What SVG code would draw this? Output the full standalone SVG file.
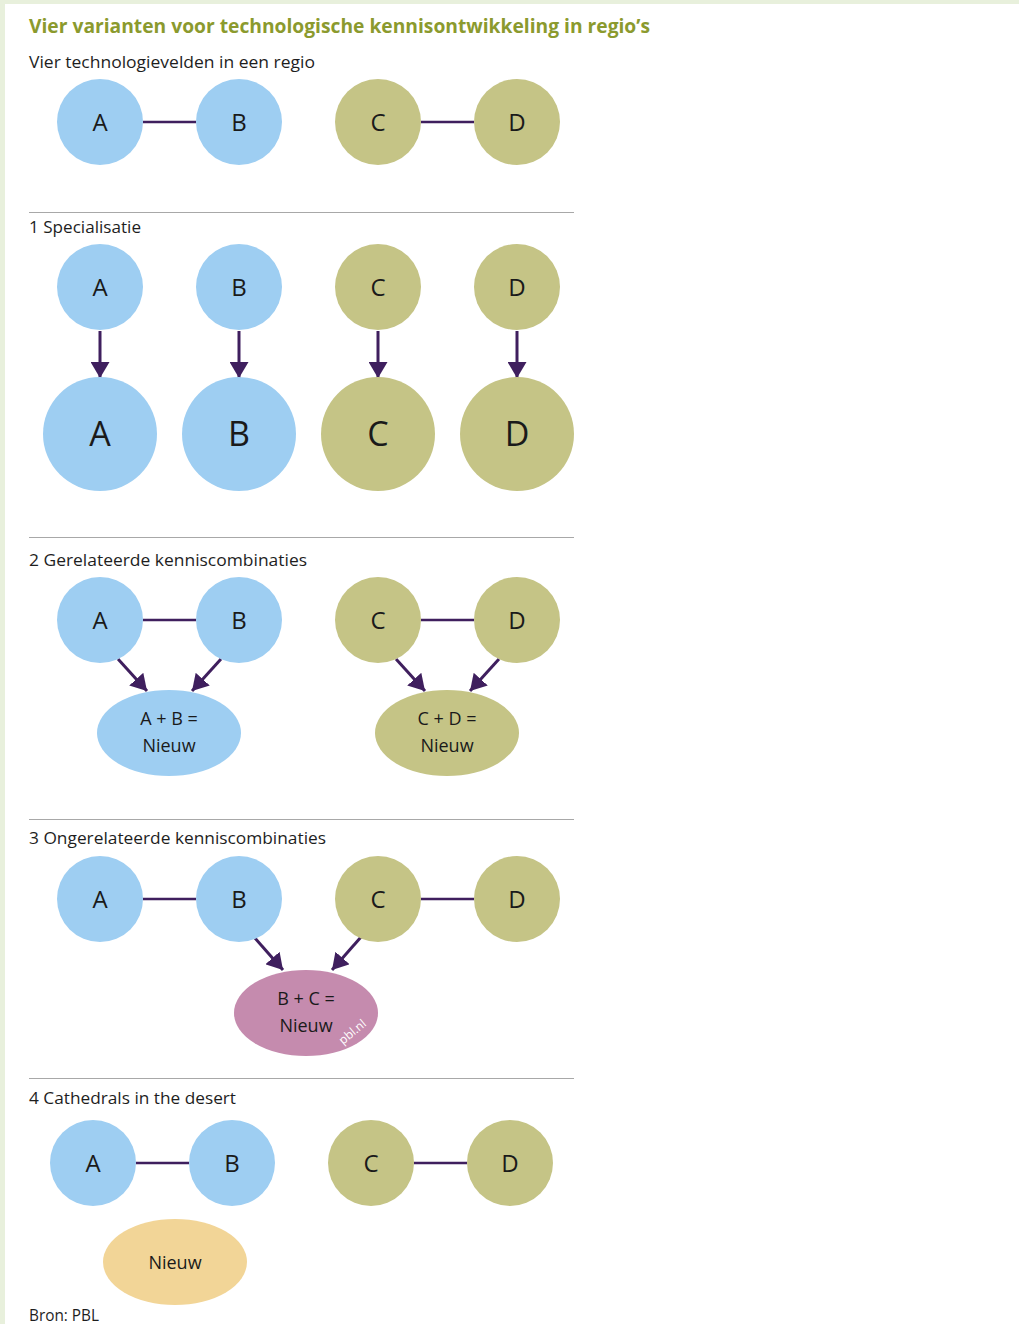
<svg xmlns="http://www.w3.org/2000/svg" width="1019" height="1324" viewBox="0 0 1019 1324">
<defs>
<style>
.bg{fill:#ffffff}
.frame{fill:#e8f0dc}
.title{font-family:"Open Sans","Noto Sans",sans-serif;font-weight:700;font-size:20px;fill:#8b9a2e}
.head{font-family:"Open Sans","Noto Sans",sans-serif;font-size:17px;fill:#1e1e1e}
.sep{stroke:#a8a8a8;stroke-width:1}
.blue{fill:#9ecef2}
.olive{fill:#c5c486}
.pink{fill:#c58bae}
.yellow{fill:#f2d597}
.lbl{font-family:"Open Sans","Noto Sans",sans-serif;font-size:24px;fill:#1a1a1a;text-anchor:middle}
.lblb{font-family:"Open Sans","Noto Sans",sans-serif;font-size:34px;fill:#1a1a1a;text-anchor:middle}
.elbl{font-family:"Open Sans","Noto Sans",sans-serif;font-size:18px;fill:#1a1a1a;text-anchor:middle}
.link{stroke:#3f1f5e;stroke-width:2.5;fill:none}
.arrow{stroke:#3f1f5e;stroke-width:3;fill:none;marker-end:url(#ah)}
.wm{font-family:"Open Sans","Noto Sans",sans-serif;font-size:12px;fill:#ffffff}
</style>
<marker id="ah" viewBox="0 0 16 19" refX="16" refY="9.5" markerWidth="16" markerHeight="19" markerUnits="userSpaceOnUse" orient="auto">
<path d="M0,0 L16,9.5 L0,19 z" fill="#3f1f5e"/>
</marker>
</defs>
<rect class="frame" x="0" y="0" width="1019" height="1324"/>
<rect class="bg" x="5" y="4" width="1014" height="1320"/>

<text class="title" x="29" y="33" textLength="621" lengthAdjust="spacingAndGlyphs">Vier varianten voor technologische kennisontwikkeling in regio’s</text>
<text class="head" x="29" y="68" textLength="286" lengthAdjust="spacingAndGlyphs">Vier technologievelden in een regio</text>

<g id="separators">
<line class="sep" x1="29" y1="212.5" x2="574" y2="212.5"/>
<line class="sep" x1="29" y1="537.5" x2="574" y2="537.5"/>
<line class="sep" x1="29" y1="819.5" x2="574" y2="819.5"/>
<line class="sep" x1="29" y1="1078.5" x2="574" y2="1078.5"/>
</g>

<text class="head" x="29" y="233" textLength="112" lengthAdjust="spacingAndGlyphs">1 Specialisatie</text>
<text class="head" x="29" y="566" textLength="278" lengthAdjust="spacingAndGlyphs">2 Gerelateerde kenniscombinaties</text>
<text class="head" x="29" y="844" textLength="297" lengthAdjust="spacingAndGlyphs">3 Ongerelateerde kenniscombinaties</text>
<text class="head" x="29" y="1104" textLength="207" lengthAdjust="spacingAndGlyphs">4 Cathedrals in the desert</text>
<text class="head" x="29" y="1321" textLength="70" lengthAdjust="spacingAndGlyphs">Bron: PBL</text>

<g id="connectors">
<line class="link" x1="143" y1="122" x2="196" y2="122"/>
<line class="link" x1="421" y1="122" x2="474" y2="122"/>
<line class="arrow" x1="100" y1="331" x2="100" y2="378"/>
<line class="arrow" x1="239" y1="331" x2="239" y2="378"/>
<line class="arrow" x1="378" y1="331" x2="378" y2="378"/>
<line class="arrow" x1="517" y1="331" x2="517" y2="378"/>
<line class="link" x1="143" y1="620" x2="196" y2="620"/>
<line class="link" x1="421" y1="620" x2="474" y2="620"/>
<line class="arrow" x1="118" y1="659" x2="147" y2="691"/>
<line class="arrow" x1="221" y1="659" x2="192" y2="691"/>
<line class="arrow" x1="396" y1="659" x2="425" y2="691"/>
<line class="arrow" x1="499" y1="659" x2="470" y2="691"/>
<line class="link" x1="143" y1="899" x2="196" y2="899"/>
<line class="link" x1="421" y1="899" x2="474" y2="899"/>
<line class="arrow" x1="254" y1="937" x2="283" y2="970"/>
<line class="arrow" x1="361" y1="937" x2="332" y2="970"/>
<line class="link" x1="136" y1="1163" x2="189" y2="1163"/>
<line class="link" x1="414" y1="1163" x2="467" y2="1163"/>
</g>

<g id="r0A"><circle class="blue" cx="100" cy="122" r="43"/><text class="lbl" x="100" y="131">A</text></g>
<g id="r0B"><circle class="blue" cx="239" cy="122" r="43"/><text class="lbl" x="239" y="131">B</text></g>
<g id="r0C"><circle class="olive" cx="378" cy="122" r="43"/><text class="lbl" x="378" y="131">C</text></g>
<g id="r0D"><circle class="olive" cx="517" cy="122" r="43"/><text class="lbl" x="517" y="131">D</text></g>

<g id="r1A"><circle class="blue" cx="100" cy="287" r="43"/><text class="lbl" x="100" y="296">A</text></g>
<g id="r1B"><circle class="blue" cx="239" cy="287" r="43"/><text class="lbl" x="239" y="296">B</text></g>
<g id="r1C"><circle class="olive" cx="378" cy="287" r="43"/><text class="lbl" x="378" y="296">C</text></g>
<g id="r1D"><circle class="olive" cx="517" cy="287" r="43"/><text class="lbl" x="517" y="296">D</text></g>
<g id="r1A2"><circle class="blue" cx="100" cy="434" r="57"/><text class="lblb" x="100" y="446">A</text></g>
<g id="r1B2"><circle class="blue" cx="239" cy="434" r="57"/><text class="lblb" x="239" y="446">B</text></g>
<g id="r1C2"><circle class="olive" cx="378" cy="434" r="57"/><text class="lblb" x="378" y="446">C</text></g>
<g id="r1D2"><circle class="olive" cx="517" cy="434" r="57"/><text class="lblb" x="517" y="446">D</text></g>

<g id="r2A"><circle class="blue" cx="100" cy="620" r="43"/><text class="lbl" x="100" y="629">A</text></g>
<g id="r2B"><circle class="blue" cx="239" cy="620" r="43"/><text class="lbl" x="239" y="629">B</text></g>
<g id="r2C"><circle class="olive" cx="378" cy="620" r="43"/><text class="lbl" x="378" y="629">C</text></g>
<g id="r2D"><circle class="olive" cx="517" cy="620" r="43"/><text class="lbl" x="517" y="629">D</text></g>
<g id="r2AB"><ellipse class="blue" cx="169" cy="733" rx="72" ry="43"/><text class="elbl" x="169" y="725">A + B =</text><text class="elbl" x="169" y="752">Nieuw</text></g>
<g id="r2CD"><ellipse class="olive" cx="447" cy="733" rx="72" ry="43"/><text class="elbl" x="447" y="725">C + D =</text><text class="elbl" x="447" y="752">Nieuw</text></g>

<g id="r3A"><circle class="blue" cx="100" cy="899" r="43"/><text class="lbl" x="100" y="908">A</text></g>
<g id="r3B"><circle class="blue" cx="239" cy="899" r="43"/><text class="lbl" x="239" y="908">B</text></g>
<g id="r3C"><circle class="olive" cx="378" cy="899" r="43"/><text class="lbl" x="378" y="908">C</text></g>
<g id="r3D"><circle class="olive" cx="517" cy="899" r="43"/><text class="lbl" x="517" y="908">D</text></g>
<g id="r3BC"><ellipse class="pink" cx="306" cy="1013" rx="72" ry="43"/><text class="elbl" x="306" y="1005">B + C =</text><text class="elbl" x="306" y="1032">Nieuw</text>
<text class="wm" x="355" y="1035" text-anchor="middle" transform="rotate(-40 355 1035)">pbl.nl</text></g>

<g id="r4A"><circle class="blue" cx="93" cy="1163" r="43"/><text class="lbl" x="93" y="1172">A</text></g>
<g id="r4B"><circle class="blue" cx="232" cy="1163" r="43"/><text class="lbl" x="232" y="1172">B</text></g>
<g id="r4C"><circle class="olive" cx="371" cy="1163" r="43"/><text class="lbl" x="371" y="1172">C</text></g>
<g id="r4D"><circle class="olive" cx="510" cy="1163" r="43"/><text class="lbl" x="510" y="1172">D</text></g>
<g id="r4N"><ellipse class="yellow" cx="175" cy="1262" rx="72" ry="43"/><text class="elbl" x="175" y="1269">Nieuw</text></g>
</svg>
